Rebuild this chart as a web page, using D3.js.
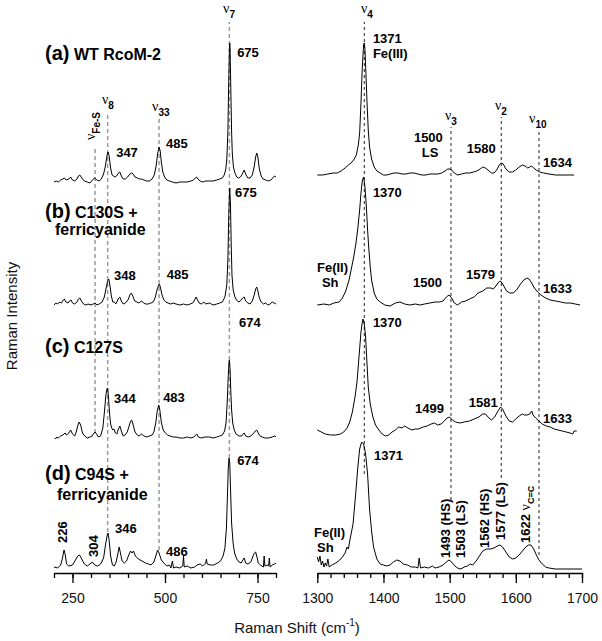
<!DOCTYPE html>
<html>
<head>
<meta charset="UTF-8">
<title>Resonance Raman spectra of RcoM-2 variants</title>
<script src="https://d3js.org/d3.v7.min.js"></script>
<style>
  body { margin: 0; background: #fff; }
  text { font-family: "Liberation Sans", Arial, sans-serif; }
</style>
</head>
<body>
<script>
var w = 602;
var h = 641;

//low frequency traces: [Raman shift, intensity above trace baseline]
var lowA = [[200,0],[206,1],[212,0],[218,2],[224,3],[228,4],[233,2],[240,3],[245,5],[250,2],[256,1],[262,3],[266,6],[270,7],[275,4],[282,1],[290,0],[297,-1],[304,2],[310,4],[316,2],[322,1],[328,3],[334,8],[339,16],[343,26],[346,30],[349,26],[353,14],[357,7],[361,6],[365,5],[369,6],[374,9],[378,10],[382,6],[387,3],[393,3],[399,5],[405,8],[410,9],[414,8],[419,5],[425,4],[431,3],[437,3],[443,2],[450,1],[458,1],[465,3],[471,7],[476,16],[480,28],[484,35],[487,31],[490,20],[494,10],[499,5],[505,2],[512,1],[520,0],[530,-1],[540,0],[550,0],[560,0],[570,1],[577,2],[582,4],[585,5],[589,3],[595,1],[602,0],[610,1],[620,1],[630,1],[640,2],[648,3],[655,4],[660,7],[664,12],[667,22],[670,50],[672,95],[674,132],[675,139],[676,132],[678,90],[680,50],[682,28],[685,15],[689,9],[694,5],[699,4],[704,5],[709,8],[714,12],[719,7],[724,4],[730,4],[736,7],[741,15],[745,25],[748,29],[751,25],[755,13],[760,6],[765,3],[772,2],[780,1],[786,2],[791,4],[796,6],[800,5]];

var lowB = [[200,0],[205,2],[210,1],[215,3],[220,2],[225,5],[228,6],[232,3],[238,2],[242,4],[246,5],[250,2],[256,1],[262,3],[266,6],[270,7],[274,4],[280,1],[286,0],[292,1],[300,0],[306,1],[311,2],[316,0],[322,1],[330,3],[336,8],[341,17],[345,24],[348,26],[351,20],[355,9],[359,3],[363,3],[367,1],[371,4],[375,7],[378,8],[382,4],[387,1],[393,2],[400,5],[405,10],[409,12],[413,9],[418,4],[424,3],[429,2],[433,3],[437,4],[442,2],[448,1],[455,1],[462,2],[468,3],[474,8],[479,16],[483,20],[485,21],[488,17],[492,10],[497,5],[502,3],[508,2],[515,1],[522,2],[530,1],[540,0],[550,1],[560,0],[568,1],[575,2],[580,5],[584,8],[588,5],[592,2],[598,1],[605,3],[610,1],[620,2],[630,0],[640,1],[648,2],[655,3],[662,8],[667,20],[670,45],[672,85],[674,110],[675,117],[677,100],[679,60],[681,30],[684,16],[688,9],[693,5],[700,3],[706,5],[710,7],[714,8],[718,4],[724,2],[730,1],[736,4],[741,10],[745,16],[748,18],[751,14],[755,7],[760,3],[766,1],[772,2],[778,0],[784,1],[790,3],[795,2],[800,1]];

var lowC = [[202,0],[204,-1],[208,1],[212,0],[218,2],[224,3],[230,5],[234,3],[240,5],[245,8],[250,4],[256,2],[260,6],[264,12],[268,16],[272,13],[277,5],[283,2],[290,0],[297,1],[303,2],[308,5],[311,6],[315,4],[320,1],[326,2],[332,10],[336,25],[340,42],[343,49],[345,50],[347,42],[350,25],[353,14],[356,10],[359,8],[362,9],[366,5],[370,4],[374,9],[378,12],[382,7],[387,2],[392,3],[398,6],[403,12],[407,17],[410,18],[414,13],[419,6],[425,3],[430,2],[437,4],[443,2],[450,1],[458,2],[465,3],[470,6],[475,15],[479,27],[483,33],[486,28],[490,16],[495,8],[501,5],[507,3],[514,2],[522,1],[530,1],[540,0],[550,0],[560,1],[570,0],[578,1],[583,3],[586,4],[590,1],[598,0],[608,1],[620,1],[630,0],[640,1],[648,2],[655,3],[661,7],[665,15],[668,35],[671,62],[673,76],[674,78],[676,68],[678,45],[680,28],[683,15],[687,8],[692,4],[700,2],[707,2],[711,4],[714,5],[718,2],[725,1],[732,2],[740,5],[744,7],[748,8],[752,5],[757,2],[763,1],[770,0],[780,0],[790,1],[797,2],[800,1]];

var lowD = [[200,1],[210,0],[218,3],[223,10],[227,18],[230,14],[234,4],[240,2],[250,3],[258,8],[264,12],[269,13],[275,9],[282,4],[290,2],[297,4],[304,6],[310,3],[318,2],[326,4],[334,10],[340,25],[344,33],[346,35],[349,28],[353,12],[358,3],[363,2],[368,6],[373,15],[376,21],[379,16],[384,7],[390,5],[396,7],[402,13],[407,17],[411,15],[415,17],[420,12],[428,9],[438,7],[447,5],[455,4],[462,3],[470,6],[476,13],[480,18],[484,15],[490,8],[497,5],[505,2],[512,3],[516,0],[520,7],[523,0],[530,1],[540,0],[548,2],[550,12],[552,1],[560,2],[570,0],[580,1],[587,3],[595,4],[602,2],[610,5],[612,9],[614,4],[622,3],[632,3],[642,5],[650,7],[657,12],[662,20],[666,40],[669,75],[671,100],[673,110],[675,105],[677,80],[680,45],[684,25],[688,15],[694,9],[700,6],[706,5],[712,9],[714,10],[718,5],[724,4],[732,6],[738,12],[742,15],[745,16],[748,12],[752,5],[758,3],[762,2],[766,1],[768,12],[770,2],[776,3],[780,2],[782,10],[784,1],[790,3],[796,4],[800,5]];

//high frequency traces
var highA = [[1300,0],[1308,0],[1316,1],[1324,2],[1330,2],[1336,4],[1342,7],[1347,10],[1351,12],[1355,15],[1359,20],[1362,30],[1364,42],[1366,72],[1368,108],[1370,130],[1371,132],[1372,126],[1373,110],[1375,75],[1377,45],[1379,28],[1382,16],[1386,8],[1390,4],[1395,2],[1400,0],[1405,0],[1410,1],[1416,2],[1422,2],[1428,1],[1434,1],[1440,2],[1446,2],[1452,1],[1458,0],[1464,0],[1470,1],[1476,1],[1482,1],[1488,2],[1493,4],[1497,6],[1500,6],[1503,5],[1507,2],[1512,0],[1518,1],[1524,2],[1530,2],[1536,3],[1541,4],[1546,6],[1550,8],[1554,7],[1558,5],[1563,2],[1567,2],[1571,5],[1575,10],[1578,12],[1581,11],[1585,6],[1590,3],[1595,3],[1600,5],[1605,8],[1610,10],[1614,9],[1618,7],[1621,8],[1624,9],[1627,7],[1631,5],[1636,3],[1642,2],[1650,1],[1660,0],[1670,0],[1680,0],[1688,0]];

var highB = [[1300,0],[1310,1],[1318,0],[1325,2],[1333,3],[1338,7],[1343,14],[1348,25],[1352,38],[1355,48],[1358,60],[1361,75],[1364,95],[1366,112],[1368,124],[1370,128],[1372,118],[1374,100],[1376,75],[1378,55],[1380,38],[1382,25],[1386,12],[1390,6],[1395,3],[1402,0],[1410,-1],[1418,2],[1425,3],[1432,1],[1440,0],[1448,1],[1455,0],[1462,1],[1470,2],[1478,3],[1485,3],[1490,4],[1495,8],[1499,10],[1503,7],[1507,2],[1512,0],[1518,3],[1524,4],[1530,6],[1537,8],[1543,12],[1550,14],[1556,17],[1562,17],[1566,16],[1570,19],[1574,23],[1577,24],[1581,20],[1586,14],[1591,12],[1596,12],[1601,15],[1606,20],[1612,25],[1617,27],[1620,26],[1624,22],[1628,17],[1633,13],[1638,10],[1645,7],[1652,5],[1660,4],[1668,3],[1675,2],[1682,2],[1690,1],[1697,0]];

var highC = [[1300,2],[1306,0],[1312,-2],[1320,-3],[1328,-3],[1335,-2],[1340,0],[1345,4],[1349,10],[1353,20],[1357,35],[1360,50],[1363,75],[1366,100],[1368,110],[1369,113],[1371,108],[1373,95],[1375,70],[1377,45],[1380,28],[1384,15],[1388,7],[1393,2],[1398,-2],[1403,-4],[1408,-3],[1413,0],[1418,2],[1423,5],[1428,4],[1432,6],[1437,4],[1443,2],[1448,3],[1453,3],[1460,5],[1466,6],[1472,8],[1477,9],[1482,7],[1487,8],[1492,11],[1496,14],[1500,15],[1504,12],[1509,10],[1515,9],[1522,10],[1530,11],[1537,13],[1544,15],[1550,18],[1554,18],[1558,15],[1563,12],[1568,15],[1573,21],[1577,25],[1580,23],[1585,16],[1590,11],[1595,10],[1600,13],[1605,16],[1610,18],[1613,17],[1617,17],[1621,18],[1624,21],[1626,17],[1630,14],[1635,11],[1640,8],[1646,6],[1652,5],[1658,3],[1664,2],[1670,1],[1676,0],[1682,-1],[1686,-2],[1688,1],[1692,1]];

var highD = [[1300,12],[1302,7],[1304,13],[1306,4],[1308,8],[1310,2],[1312,6],[1314,3],[1316,10],[1318,2],[1322,4],[1328,6],[1334,9],[1338,12],[1342,16],[1345,22],[1347,20],[1349,28],[1354,45],[1358,75],[1361,100],[1364,120],[1367,127],[1370,125],[1373,115],[1376,95],[1379,60],[1382,38],[1385,22],[1390,10],[1395,5],[1400,4],[1405,3],[1410,4],[1415,7],[1420,9],[1425,8],[1430,5],[1436,4],[1442,2],[1448,2],[1452,1],[1454,11],[1456,1],[1462,2],[1468,1],[1474,3],[1478,1],[1484,2],[1490,4],[1495,7],[1499,9],[1503,7],[1508,3],[1512,1],[1517,0],[1522,2],[1527,3],[1531,5],[1535,4],[1540,8],[1545,13],[1550,18],[1556,20],[1562,20],[1567,21],[1572,23],[1576,24],[1580,22],[1585,17],[1590,12],[1595,10],[1600,11],[1605,14],[1610,18],[1615,22],[1619,24],[1623,24],[1627,20],[1631,14],[1635,9],[1640,5],[1645,2],[1650,1],[1660,0],[1700,0]];

//axis ticks
var lowMajor = [250, 500, 750];
var lowMinor = [200, 250, 300, 350, 400, 450, 500, 550, 600, 650, 700, 750, 800];
var highMajor = [1300, 1400, 1500, 1600, 1700];
var highMinor = d3.range(1300, 1701, 20);

//sample names
var sampleTags = ["(a)", "(b)", "(c)", "(d)"];
var sampleNames = [["WT RcoM-2"], ["C130S +", "ferricyanide"], ["C127S"], ["C94S +", "ferricyanide"]];

//vertical stacking of the traces (intensity units)
var lowShift = [392, 269, 136, 6];
var highShift = [399, 269, 142, 5];

//marker lines: position, bottom, top
var lowMarks = [[311, 141, 427], [345, 42, 462], [484, 24, 456], [674, 116, 552]];
var highMarks = [[1371, 100, 552], [1502, 74, 447], [1578, 96, 457], [1635, 19, 442]];

//mode symbols above the marker lines
var lowModes = [["8", 329.7, 470], ["33", 465, 463], ["7", 657, 561]];
var highModes = [["4", 1366, 561], ["3", 1493, 454], ["2", 1568.5, 464], ["10", 1620, 451]];

//peak labels
var lowPeaks = [["675", 695, 517], ["347", 368, 417], ["485", 503, 426],
  ["675", 689, 377], ["348", 362, 294], ["485", 505, 295], ["674", 700, 247],
  ["344", 362, 171], ["483", 495, 172], ["674", 695, 109],
  ["346", 365, 41], ["486", 503, 18]];
var lowPeaksUp = [["226", 235, 31], ["304", 319, 17]];
var highPeaks = [["1371", 1384, 531], ["Fe(III)", 1384, 516], ["1500", 1446, 432], ["LS", 1458, 417],
  ["1580", 1526, 421], ["1634", 1641, 407],
  ["1370", 1384, 377], ["Fe(II)", 1299.5, 302], ["Sh", 1307, 287], ["1500", 1444.6, 287],
  ["1579", 1524.7, 295], ["1633", 1641, 281],
  ["1370", 1384, 247], ["1499", 1447.6, 161], ["1581", 1529, 167], ["1633", 1641, 151],
  ["1371", 1385.7, 114], ["Fe(II)", 1295, 37], ["Sh", 1299.5, 22]];
var highPeaksUp = [["1493 (HS)", 1500.5, 16], ["1503 (LS)", 1523, 16], ["1562 (HS)", 1559.5, 26], ["1577 (LS)", 1583.7, 34]];

var xLow = d3.scaleLinear().domain([200, 800]).range([54, 276]);
var xHigh = d3.scaleLinear().domain([1300, 1700]).range([317.3, 582]);
var y = d3.scaleLinear().domain([0, 560]).range([574, 14]);

var svg = d3.select("body").append("svg")
  .attr("width", w)
  .attr("height", h);

//marker lines
svg.selectAll("line.lowmark")
  .data(lowMarks)
  .enter()
  .append("line")
  .attr("x1", function(d){ return xLow(d[0]); })
  .attr("x2", function(d){ return xLow(d[0]); })
  .attr("y1", function(d){ return y(d[1]); })
  .attr("y2", function(d){ return y(d[2]); })
  .attr("stroke", "#999")
  .attr("stroke-width", 1.5)
  .attr("stroke-dasharray", "4,3");

svg.selectAll("line.highmark")
  .data(highMarks)
  .enter()
  .append("line")
  .attr("x1", function(d){ return xHigh(d[0]); })
  .attr("x2", function(d){ return xHigh(d[0]); })
  .attr("y1", function(d){ return y(d[1]); })
  .attr("y2", function(d){ return y(d[2]); })
  .attr("stroke", "#222")
  .attr("stroke-width", 1)
  .attr("stroke-dasharray", "3,3");

//traces
function drawTraces(series, shifts, x){
  series.forEach(function(s, i){
    var line = d3.line()
      .x(function(d){ return x(d[0]); })
      .y(function(d){ return y(d[1] + shifts[i]); });
    svg.append("path")
      .attr("d", line(s))
      .attr("fill", "none")
      .attr("stroke", "#000")
      .attr("stroke-width", 1)
      .attr("stroke-linejoin", "round");
  });
}
drawTraces([lowA, lowB, lowC, lowD], lowShift, xLow);
drawTraces([highA, highB, highC, highD], highShift, xHigh);

//axes
function drawAxis(x, major, minor){
  svg.append("g")
    .attr("transform", "translate(0,573)")
    .call(d3.axisBottom(x).tickValues(minor).tickSize(5).tickSizeOuter(0).tickFormat(""))
    .call(function(g){ g.selectAll("line").attr("stroke-width", 1.3); g.select(".domain").attr("stroke-width", 1.3); });
  svg.append("g")
    .attr("transform", "translate(0,573)")
    .call(d3.axisBottom(x).tickValues(major).tickSize(10).tickSizeOuter(0).tickPadding(10).tickFormat(d3.format("d")))
    .call(function(g){
      g.select(".domain").remove();
      g.selectAll("line").attr("stroke-width", 1.3);
      g.selectAll("text")
        .attr("font-size", 14)
        .attr("font-family", "Liberation Sans, Arial, sans-serif")
        .attr("fill", "#111");
    });
}
drawAxis(xLow, lowMajor, lowMinor);
drawAxis(xHigh, highMajor, highMinor);

//sample names
var nameBase = [514, 356, 221, 94];
sampleTags.forEach(function(tag, i){
  var t = svg.append("text")
    .attr("x", xLow(175.7))
    .attr("y", y(nameBase[i]))
    .attr("font-weight", "bold");
  t.append("tspan").attr("font-size", 20).text(tag);
  t.append("tspan").attr("font-size", 16).text(" " + sampleNames[i][0]);
  if(sampleNames[i].length > 1){
    svg.append("text")
      .attr("x", xLow(i == 1 ? 202.7 : 208))
      .attr("y", y(nameBase[i] - (i == 1 ? 17 : 20)))
      .attr("font-size", 16)
      .attr("font-weight", "bold")
      .text(sampleNames[i][1]);
  }
});

//mode labels (nu)
function nuLabel(x, yy, sub){
  var t = svg.append("text").attr("x", x).attr("y", yy);
  t.append("tspan").attr("font-family", "Liberation Serif, serif").attr("font-size", 14).text("\u03bd");
  t.append("tspan").attr("font-size", 10).attr("font-weight", "bold").attr("dy", 5).text(sub);
}
lowModes.forEach(function(d){ nuLabel(xLow(d[1]), y(d[2]), d[0]); });
highModes.forEach(function(d){ nuLabel(xHigh(d[1]), y(d[2]), d[0]); });

//nu Fe-S, rotated
var fes = svg.append("text")
  .attr("transform", "translate(" + xLow(310.8) + "," + y(434) + ") rotate(-90)");
fes.append("tspan").attr("font-family", "Liberation Serif, serif").attr("font-size", 14).text("\u03bd");
fes.append("tspan").attr("font-size", 10).attr("font-weight", "bold").attr("dy", 5).text("Fe-S");

//peak labels
function peakLabels(list, x){
  svg.selectAll(null)
    .data(list)
    .enter()
    .append("text")
    .attr("x", function(d){ return x(d[1]); })
    .attr("y", function(d){ return y(d[2]); })
    .attr("font-size", 13)
    .attr("font-weight", "bold")
    .text(function(d){ return d[0]; });
}
peakLabels(lowPeaks, xLow);
peakLabels(highPeaks, xHigh);

function peakLabelsUp(list, x){
  svg.selectAll(null)
    .data(list)
    .enter()
    .append("text")
    .attr("transform", function(d){ return "translate(" + x(d[1]) + "," + y(d[2]) + ") rotate(-90)"; })
    .attr("font-size", 13)
    .attr("font-weight", "bold")
    .text(function(d){ return d[0]; });
}
peakLabelsUp(lowPeaksUp, xLow);
peakLabelsUp(highPeaksUp, xHigh);

//1622 nu C=C
var cc = svg.append("text")
  .attr("transform", "translate(" + xHigh(1621.5) + "," + y(31) + ") rotate(-90)")
  .attr("font-size", 13)
  .attr("font-weight", "bold");
cc.append("tspan").text("1622 ");
cc.append("tspan").attr("font-family", "Liberation Serif, serif").attr("font-weight", "normal").attr("font-size", 14).text("\u03bd");
cc.append("tspan").attr("font-size", 9).attr("dy", 4).text("C=C");

//axis titles
var xt = svg.append("text")
  .attr("x", 297)
  .attr("y", 633)
  .attr("text-anchor", "middle")
  .attr("font-size", 15)
  .attr("fill", "#111");
xt.append("tspan").text("Raman Shift (cm");
xt.append("tspan").attr("font-size", 10).attr("dy", -7).text("-1");
xt.append("tspan").attr("dy", 7).text(")");

svg.append("text")
  .attr("transform", "translate(17,316) rotate(-90)")
  .attr("text-anchor", "middle")
  .attr("font-size", 15)
  .attr("fill", "#111")
  .text("Raman Intensity");
</script>
</body>
</html>
